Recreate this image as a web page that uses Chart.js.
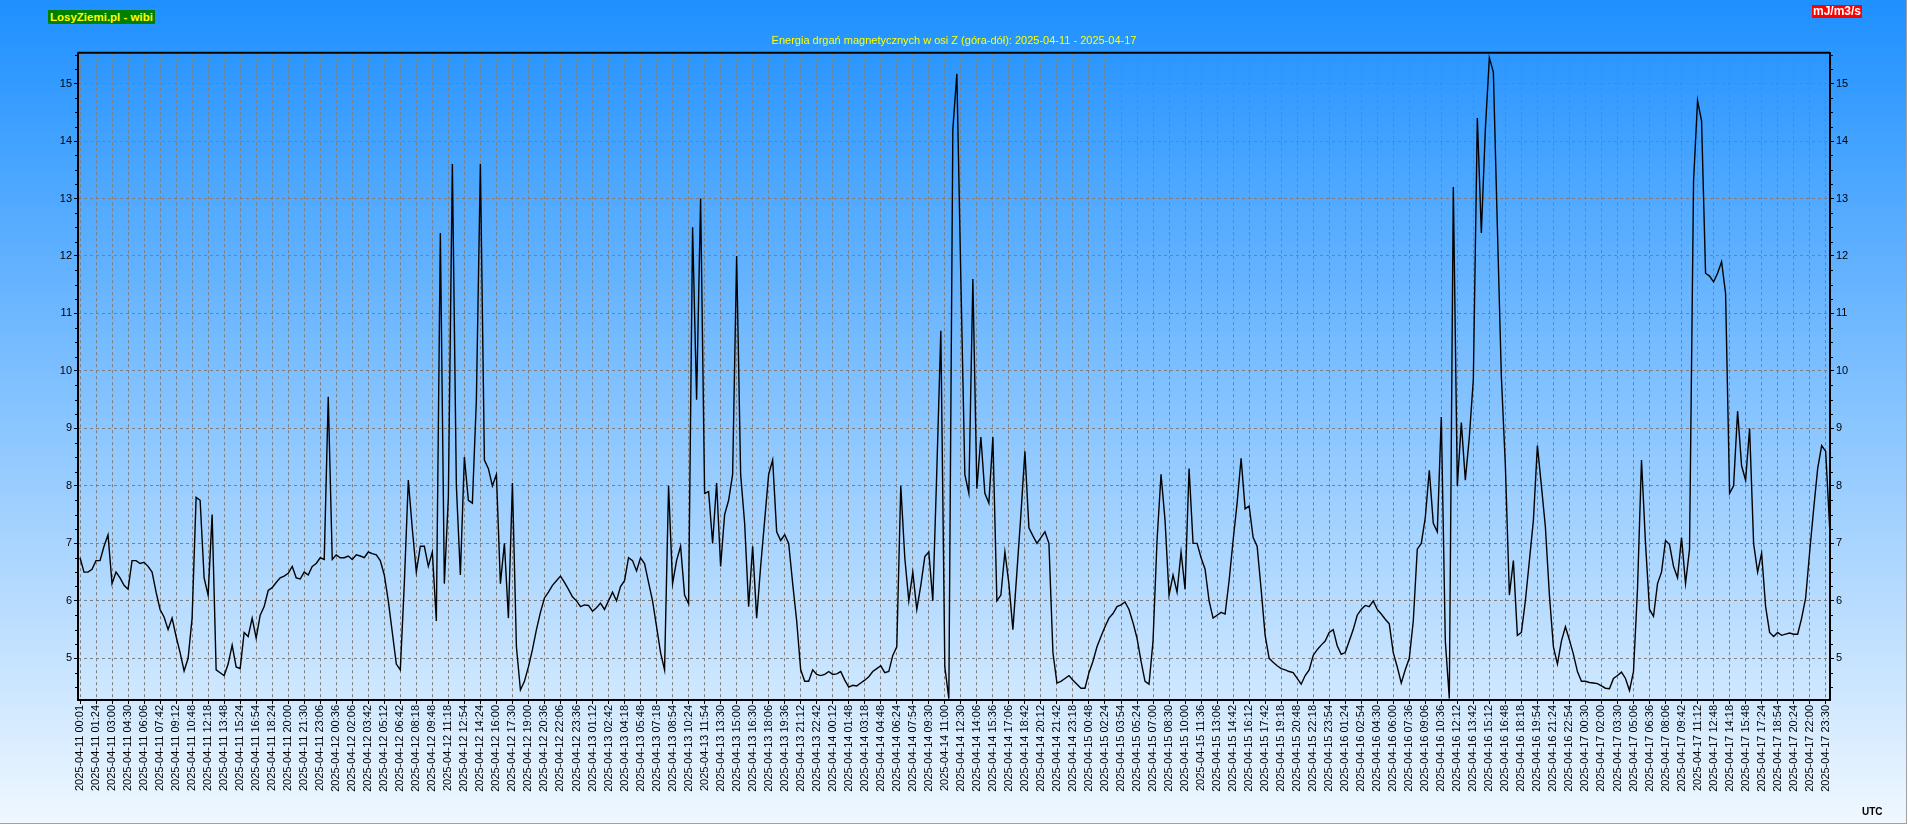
<!DOCTYPE html>
<html>
<head>
<meta charset="utf-8">
<script src="https://cdn.jsdelivr.net/npm/chart.js@4.4.1/dist/chart.umd.min.js"></script>
<style>
  html, body { margin: 0; padding: 0; background: #ffffff; }
  #wrap { position: relative; width: 1908px; height: 825px; overflow: hidden; }
  #c { position: absolute; left: 0; top: 0; }
  .badge { position: absolute; font-family: "Liberation Sans", Arial, sans-serif; white-space: nowrap; }
  #site { left: 48px; top: 10px; height: 14px; line-height: 14px; padding: 0 2px; background: #008000; color: #ffff00; font-weight: bold; font-size: 11.5px; }
  #unit { left: 1812px; top: 5px; height: 13px; line-height: 13px; padding: 0 1px; background: #ff0000; color: #ffffff; font-weight: bold; font-size: 12px; }
  #utc { left: 1862px; top: 806px; font-weight: bold; font-size: 10px; color: #000; }
</style>
</head>
<body>
<div id="wrap">
  <canvas id="c" width="1908" height="825"></canvas>
  <div class="badge" id="site">LosyZiemi.pl - wibi</div>
  <div class="badge" id="unit">mJ/m3/s</div>
  <div class="badge" id="utc">UTC</div>
</div>
<script>
// ---- tick labels of the time axis (one per vertical grid line) ----
const xLabels = [
  "2025-04-11 00:01","2025-04-11 01:24","2025-04-11 03:00","2025-04-11 04:30","2025-04-11 06:06","2025-04-11 07:42","2025-04-11 09:12","2025-04-11 10:48","2025-04-11 12:18","2025-04-11 13:48","2025-04-11 15:24","2025-04-11 16:54","2025-04-11 18:24","2025-04-11 20:00","2025-04-11 21:30","2025-04-11 23:06",
  "2025-04-12 00:36","2025-04-12 02:06","2025-04-12 03:42","2025-04-12 05:12","2025-04-12 06:42","2025-04-12 08:18","2025-04-12 09:48","2025-04-12 11:18","2025-04-12 12:54","2025-04-12 14:24","2025-04-12 16:00","2025-04-12 17:30","2025-04-12 19:00","2025-04-12 20:36","2025-04-12 22:06","2025-04-12 23:36",
  "2025-04-13 01:12","2025-04-13 02:42","2025-04-13 04:18","2025-04-13 05:48","2025-04-13 07:18","2025-04-13 08:54","2025-04-13 10:24","2025-04-13 11:54","2025-04-13 13:30","2025-04-13 15:00","2025-04-13 16:30","2025-04-13 18:06","2025-04-13 19:36","2025-04-13 21:12","2025-04-13 22:42",
  "2025-04-14 00:12","2025-04-14 01:48","2025-04-14 03:18","2025-04-14 04:48","2025-04-14 06:24","2025-04-14 07:54","2025-04-14 09:30","2025-04-14 11:00","2025-04-14 12:30","2025-04-14 14:06","2025-04-14 15:36","2025-04-14 17:06","2025-04-14 18:42","2025-04-14 20:12","2025-04-14 21:42","2025-04-14 23:18",
  "2025-04-15 00:48","2025-04-15 02:24","2025-04-15 03:54","2025-04-15 05:24","2025-04-15 07:00","2025-04-15 08:30","2025-04-15 10:00","2025-04-15 11:36","2025-04-15 13:06","2025-04-15 14:42","2025-04-15 16:12","2025-04-15 17:42","2025-04-15 19:18","2025-04-15 20:48","2025-04-15 22:18","2025-04-15 23:54",
  "2025-04-16 01:24","2025-04-16 02:54","2025-04-16 04:30","2025-04-16 06:00","2025-04-16 07:36","2025-04-16 09:06","2025-04-16 10:36","2025-04-16 12:12","2025-04-16 13:42","2025-04-16 15:12","2025-04-16 16:48","2025-04-16 18:18","2025-04-16 19:54","2025-04-16 21:24","2025-04-16 22:54",
  "2025-04-17 00:30","2025-04-17 02:00","2025-04-17 03:30","2025-04-17 05:06","2025-04-17 06:36","2025-04-17 08:06","2025-04-17 09:42","2025-04-17 11:12","2025-04-17 12:48","2025-04-17 14:18","2025-04-17 15:48","2025-04-17 17:24","2025-04-17 18:54","2025-04-17 20:24","2025-04-17 22:00","2025-04-17 23:30"
];

// ---- energy values (mJ/m3/s), 4 readings per tick-label interval ----
const energyApr11_12 = [
  6.75,6.5,6.5,6.55,6.7,6.7,6.95,7.15,6.3,6.5,
  6.4,6.27,6.2,6.7,6.7,6.65,6.67,6.6,6.5,6.15,
  5.85,5.72,5.5,5.7,5.38,5.1,4.78,5.0,5.7,7.8,
  7.75,6.4,6.1,7.5,4.8,4.75,4.7,4.9,5.23,4.85,
  4.82,5.45,5.38,5.7,5.35,5.75,5.9,6.18,6.23,6.32,
  6.4,6.43,6.48,6.6,6.4,6.38,6.5,6.45,6.6,6.65,
  6.75,6.72,9.55,6.72,6.8,6.75,6.75,6.78,6.72,6.8,
  6.78,6.75,6.85,6.82,6.8,6.7,6.45,6.0,5.45,4.9,
  4.8,6.3,8.1,7.25,6.5,6.95,6.95,6.6
];
const energyApr12_13 = [
  6.85,5.65,12.4,6.3,7.8,13.6,8.0,6.45,8.5,7.75,
  7.7,9.5,13.6,8.45,8.3,8.0,8.2,6.3,7.0,5.7,
  8.05,5.2,4.45,4.6,4.85,5.15,5.5,5.8,6.05,6.15,
  6.27,6.35,6.43,6.32,6.2,6.07,6.0,5.9,5.93,5.92,
  5.82,5.88,5.96,5.85,6.0,6.15,6.0,6.25,6.35,6.75,
  6.7,6.52,6.75,6.65,6.32,6.0,5.55,5.1,4.8,8.0,
  6.3,6.7,6.95,6.1,5.95,12.5,9.5,13.0,7.87,7.9,
  7.0,8.05,6.6,7.5,7.75,8.2,12.0,8.2,7.35,5.9,
  6.95,5.7,6.6,7.4,8.2,8.45,7.2,7.05
];
const energyApr13_15 = [
  7.15,7.0,6.3,5.65,4.8,4.6,4.6,4.8,4.72,4.7,
  4.72,4.77,4.72,4.73,4.77,4.62,4.5,4.53,4.52,4.57,
  4.62,4.68,4.77,4.82,4.87,4.75,4.77,5.05,5.2,8.0,
  6.75,6.0,6.5,5.85,6.27,6.77,6.85,6.0,8.27,10.7,
  4.85,4.3,14.2,15.17,11.6,8.2,7.87,11.6,7.95,8.85,
  7.87,7.7,8.85,6.0,6.1,6.85,6.3,5.5,6.5,7.5,
  8.6,7.27,7.13,7.0,7.1,7.2,7.0,5.1,4.57,4.6,
  4.65,4.7,4.62,4.55,4.48,4.48,4.75,4.95,5.2,5.38,
  5.55,5.7,5.78,5.9,5.93,5.98,5.85,5.62
];
const energyApr15_16 = [
  5.35,4.95,4.6,4.55,5.3,7.05,8.2,7.4,6.1,6.45,
  6.15,6.85,6.2,8.3,7.0,7.0,6.75,6.55,6.0,5.7,
  5.75,5.8,5.77,6.35,7.05,7.7,8.48,7.6,7.65,7.1,
  6.95,6.2,5.4,5.0,4.93,4.87,4.82,4.8,4.77,4.75,
  4.65,4.55,4.7,4.8,5.05,5.15,5.23,5.3,5.45,5.5,
  5.22,5.07,5.1,5.3,5.5,5.75,5.85,5.92,5.9,6.0,
  5.85,5.77,5.68,5.6,5.1,4.85,4.57,4.8,5.0,5.65,
  6.9,7.0,7.45,8.27,7.35,7.2,9.2,5.3,4.3,13.2,
  8.0,9.1,8.1,8.85,9.85,14.4,12.4,14.2
];
const energyApr16_17 = [
  15.45,15.2,12.5,9.9,8.35,6.1,6.7,5.4,5.45,6.0,
  6.7,7.4,8.7,8.0,7.28,6.1,5.2,4.9,5.3,5.55,
  5.32,5.07,4.77,4.6,4.6,4.58,4.57,4.56,4.52,4.48,
  4.47,4.65,4.7,4.76,4.65,4.44,4.77,6.2,8.45,7.0,
  5.85,5.73,6.3,6.5,7.05,6.98,6.6,6.4,7.1,6.3,
  6.9,13.3,14.7,14.35,11.7,11.65,11.55,11.7,11.9,11.35,
  7.87,8.0,9.3,8.35,8.1,9.0,7.0,6.5,6.83,5.9,
  5.45,5.38,5.45,5.4,5.42,5.44,5.42,5.42,5.7,6.05,
  6.85,7.6,8.3,8.7,8.6,7.27
];
const yTickValues = [5, 6, 7, 8, 9, 10, 11, 12, 13, 14, 15];
const yMin = 4.275, yMax = 15.545;
const readingsPerLabel = 4;

const energy = [].concat(energyApr11_12, energyApr12_13, energyApr13_15, energyApr15_16, energyApr16_17);
const points = energy.map((v, i) => ({ x: i / readingsPerLabel, y: v }));

const FONT = '"Liberation Sans", Arial, sans-serif';

const bgPlugin = {
  id: 'bg',
  beforeDraw(chart) {
    const { ctx, width, height } = chart;
    const g = ctx.createLinearGradient(0, 0, 0, height);
    g.addColorStop(0, 'rgb(30,144,255)');
    g.addColorStop(1, 'rgb(240,248,255)');
    ctx.save();
    ctx.fillStyle = g;
    ctx.fillRect(0, 0, width, height);
    // thin window edge at the bottom and right
    ctx.fillStyle = '#a0a0a0';
    ctx.fillRect(0, height - 2, width, 1);
    ctx.fillRect(width - 2, 0, 1, height);
    ctx.fillStyle = '#ffffff';
    ctx.fillRect(0, height - 1, width, 1);
    ctx.fillRect(width - 1, 0, 1, height);
    ctx.restore();
  }
};

const framePlugin = {
  id: 'frame',
  afterDatasetsDraw(chart) {
    const { ctx, chartArea: a, scales } = chart;
    ctx.save();
    ctx.strokeStyle = '#000';
    ctx.lineWidth = 1;
    ctx.beginPath();
    for (let v = Math.ceil(yMin * 4) / 4; v <= yMax; v += 0.25) {
      if (Math.abs(v - Math.round(v)) < 1e-6) continue;
      const py = Math.round(scales.y.getPixelForValue(v)) + 0.5;
      ctx.moveTo(a.left - 3, py); ctx.lineTo(a.left, py);
      ctx.moveTo(a.right, py); ctx.lineTo(a.right + 3, py);
    }
    ctx.stroke();
    ctx.lineWidth = 2;
    ctx.beginPath();
    ctx.moveTo(a.left, a.top + 0.5); ctx.lineTo(a.right, a.top + 0.5);
    ctx.stroke();
    ctx.beginPath();
    ctx.moveTo(a.left, a.top); ctx.lineTo(a.left, a.bottom); ctx.lineTo(a.right, a.bottom); ctx.lineTo(a.right, a.top);
    ctx.stroke();
    ctx.restore();
  }
};

const yAxisCommon = (pos) => ({
  type: 'linear',
  position: pos,
  min: yMin,
  max: yMax,
  afterBuildTicks: (s) => { s.ticks = yTickValues.map(v => ({ value: v })); },
  afterFit: (s) => { s.width = 78; },
  ticks: { color: '#000', font: { family: FONT, size: 11 }, padding: 2 },
  grid: {
    color: pos === 'left' ? '#7f7f7f' : 'rgba(0,0,0,0)',
    drawOnChartArea: pos === 'left',
    lineWidth: 1,
    tickLength: 4,
    tickColor: '#000',
    tickBorderDash: []
  },
  border: { display: false, dash: [3, 3] }
});

new Chart(document.getElementById('c'), {
  type: 'line',
  data: {
    datasets: [{
      data: points,
      borderColor: '#000',
      borderWidth: 1.4,
      pointRadius: 0,
      tension: 0,
      fill: false
    }]
  },
  options: {
    responsive: false,
    animation: false,
    events: [],
    layout: { padding: { left: 0, right: 0, top: 0, bottom: 0 } },
    plugins: {
      legend: { display: false },
      tooltip: { enabled: false },
      title: {
        display: true,
        text: 'Energia drgań magnetycznych w osi Z (góra-dół): 2025-04-11 - 2025-04-17',
        color: '#ffff00',
        font: { family: FONT, size: 11, weight: 'normal' },
        padding: { top: 34, bottom: 5 }
      }
    },
    scales: {
      x: {
        type: 'linear',
        min: -0.125,
        max: 109.27,
        afterBuildTicks: (s) => { s.ticks = xLabels.map((_, i) => ({ value: i })); },
        afterFit: (s) => { s.height = 125; },
        ticks: {
          autoSkip: false,
          maxRotation: 90,
          minRotation: 90,
          color: '#000',
          font: { family: FONT, size: 11 },
          padding: 1,
          callback: (v) => xLabels[v]
        },
        grid: {
          color: '#7f7f7f',
          lineWidth: 1,
          tickLength: 4,
          tickColor: '#000',
          tickBorderDash: []
        },
        border: { display: false, dash: [3, 3] }
      },
      y: yAxisCommon('left'),
      y2: yAxisCommon('right')
    }
  },
  plugins: [bgPlugin, framePlugin]
});
</script>
</body>
</html>
